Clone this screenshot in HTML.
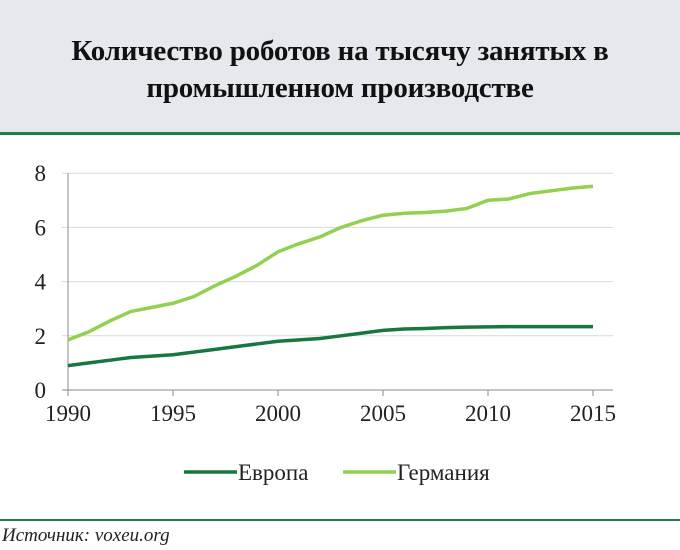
<!DOCTYPE html>
<html><head><meta charset="utf-8"><style>
body{margin:0;width:680px;height:550px;background:#fff;overflow:hidden;position:relative;font-family:"Liberation Serif",serif}
#hdr{position:absolute;left:0;top:0;width:680px;height:132px;background:#e5e8ec;border-bottom:3px solid #237a4b}
#hdr h1{margin:0;position:absolute;top:33px;width:680px;text-align:center;font-size:29px;line-height:37px;font-weight:bold;color:#111;letter-spacing:-0.2px}
#foot{position:absolute;left:0;top:519px;width:680px;border-top:2px solid #237a4b}
#src{position:absolute;left:2px;top:525px;font-style:italic;font-size:19px;color:#222}
</style></head><body>
<div id="hdr"><h1>Количество роботов на тысячу занятых в<br>промышленном производстве</h1></div>
<svg id="chart" width="680" height="550" style="position:absolute;left:0;top:0"></svg>
<div id="foot"></div>
<div id="src">Источник: voxeu.org</div>
<script>
const years=[1990,1991,1992,1993,1994,1995,1996,1997,1998,1999,2000,2001,2002,2003,2004,2005,2006,2007,2008,2009,2010,2011,2012,2013,2014,2015];
const europe=[0.9,1.0,1.1,1.2,1.25,1.3,1.4,1.5,1.6,1.7,1.8,1.85,1.9,2.0,2.1,2.2,2.25,2.27,2.3,2.32,2.33,2.34,2.34,2.34,2.34,2.34];
const germany=[1.85,2.15,2.55,2.9,3.05,3.2,3.45,3.85,4.2,4.6,5.1,5.4,5.65,6.0,6.25,6.45,6.52,6.55,6.6,6.7,7.0,7.05,7.25,7.35,7.45,7.52];
const yTicks=[0,2,4,6,8];
const xTicks=[1990,1995,2000,2005,2010,2015];
const svg=document.getElementById('chart');const NS='http://www.w3.org/2000/svg';
const x=v=>68+(v-1990)*21, y=v=>390-v*27.1;
function mk(t,a){const e=document.createElementNS(NS,t);for(const k in a)e.setAttribute(k,a[k]);svg.appendChild(e);return e;}
yTicks.forEach(t=>{
 const g=mk('line',{x1:62,x2:613,y1:y(t),y2:y(t),stroke:t?'#d9d9d9':'#888','stroke-width':1});
 
 
 const l=mk('text',{x:46,y:y(t)+8,'text-anchor':'end','font-size':23,fill:'#222','font-family':'Liberation Serif, serif'});l.textContent=t;
 
 
});
const ax=mk('line',{x1:x(1990),x2:x(1990),y1:y(8),y2:y(0)+6,stroke:'#888'});


xTicks.forEach(t=>{
 const k=mk('line',{x1:x(t),x2:x(t),y1:y(0),y2:y(0)+6,stroke:'#888'});
 
 
 const l=mk('text',{x:x(t),y:y(0)+31,'text-anchor':'middle','font-size':23,fill:'#222','font-family':'Liberation Serif, serif'});l.textContent=t;
 
 
});
function line(d,c,n){const p=mk('polyline',{points:d.map((v,i)=>x(years[i])+','+y(v)).join(' '),fill:'none',stroke:c,'stroke-width':3.5,'stroke-linejoin':'round'});
 
 }
line(europe,'#17773f','series-europe');
line(germany,'#92d050','series-germany');
[['#17773f','Европа',184],['#92d050','Германия',343]].forEach(([c,t,lx])=>{
 const s=mk('line',{x1:lx,x2:lx+53,y1:472,y2:472,stroke:c,'stroke-width':3.5});
 
 
 const l=mk('text',{x:lx+54,y:480,'font-size':23,fill:'#222','font-family':'Liberation Serif, serif'});l.textContent=t;
 
 
});
</script>
</body></html>
